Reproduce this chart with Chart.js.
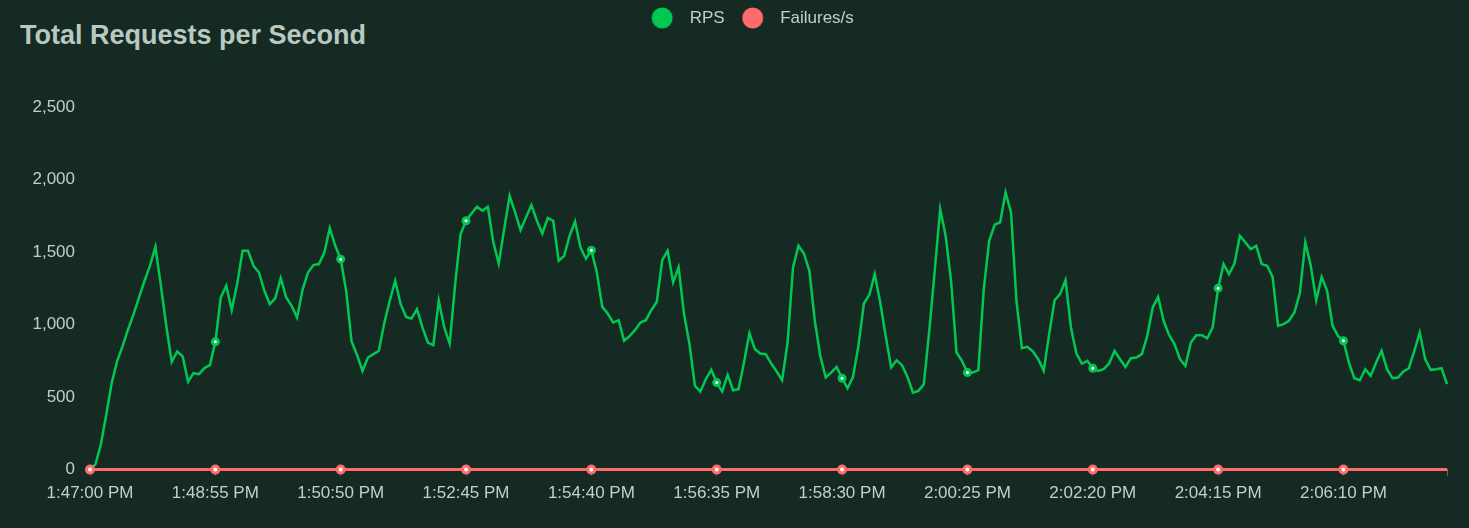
<!DOCTYPE html>
<html>
<head>
<meta charset="utf-8">
<script src="https://cdn.jsdelivr.net/npm/chart.js@4.4.1/dist/chart.umd.min.js"></script>
<style>
  html, body { margin: 0; padding: 0; background: #152a22; }
  #wrap { position: relative; width: 1469px; height: 528px; background: #152a22; overflow: hidden; }
  #title { position: absolute; left: 20px; top: 18px; margin: 0; font: bold 27px "Liberation Sans", Arial, Helvetica, sans-serif; line-height: 34px; color: #b9c9c0; white-space: nowrap; }
  #c { position: absolute; left: 0; top: 0; }
</style>
</head>
<body>
<div id="wrap">
  <h1 id="title">Total Requests per Second</h1>
  <canvas id="c" width="1469" height="528"></canvas>
</div>
<script>
// ---- data (one sample every 5 seconds, starting 1:47:00 PM) ----
const seriesNames = ['RPS', 'Failures/s'];

const rpsValues = [
  0, 37, 175, 382, 600, 750, 853, 968, 1072, 1187, 1302, 1405, 1536, 1270, 990, 743, 814, 780, 605, 665, 658, 700, 720, 881,
  1187, 1267, 1100, 1279, 1509, 1509, 1405, 1359, 1233, 1141, 1182, 1320, 1187, 1129, 1049, 1240, 1359, 1410, 1417, 1497, 1665, 1543, 1451,
  1233, 883, 790, 681, 773, 796, 819, 1010, 1164, 1302, 1141, 1053, 1042, 1106, 980, 876, 858, 1164, 980, 869, 1279, 1624, 1716,
  1766, 1812, 1785, 1812, 1570, 1421, 1658, 1888, 1773, 1651, 1739, 1824, 1716, 1628, 1734, 1716, 1440, 1474, 1612, 1711, 1532, 1454, 1513,
  1359, 1122, 1076, 1014, 1030, 888, 920, 961, 1014, 1030, 1099, 1157, 1444, 1509, 1290, 1394, 1072, 865, 577, 538, 623, 688, 600,
  538, 653, 547, 554, 738, 941, 830, 800, 796, 731, 676, 616, 876, 1394, 1543, 1490, 1371, 1026, 784, 635, 669, 708, 630,
  561, 639, 853, 1145, 1205, 1348, 1152, 922, 704, 754, 720, 639, 531, 543, 589, 957, 1371, 1796, 1612, 1302, 807, 750, 669,
  669, 685, 1244, 1578, 1688, 1704, 1911, 1773, 1164, 837, 846, 815, 761, 681, 934, 1168, 1210, 1306, 980, 800, 731, 750, 699,
  681, 692, 731, 819, 761, 708, 768, 773, 796, 922, 1118, 1191, 1026, 928, 865, 761, 715, 876, 927, 927, 906, 980, 1251,
  1417, 1348, 1421, 1612, 1566, 1520, 1543, 1417, 1405, 1329, 991, 1003, 1026, 1083, 1217, 1566, 1405, 1168, 1329, 1233, 991, 922, 888,
  738, 630, 616, 692, 646, 738, 819, 692, 630, 635, 676, 699, 819, 945, 761, 688, 692, 699, 589
];

const failureValues = [
  0,0,0,0,0,0,0,0,0,0,0,0,0,0,0,0,0,0,0,0,0,0,0,0,0,
  0,0,0,0,0,0,0,0,0,0,0,0,0,0,0,0,0,0,0,0,0,0,0,0,0,
  0,0,0,0,0,0,0,0,0,0,0,0,0,0,0,0,0,0,0,0,0,0,0,0,0,
  0,0,0,0,0,0,0,0,0,0,0,0,0,0,0,0,0,0,0,0,0,0,0,0,0,
  0,0,0,0,0,0,0,0,0,0,0,0,0,0,0,0,0,0,0,0,0,0,0,0,0,
  0,0,0,0,0,0,0,0,0,0,0,0,0,0,0,0,0,0,0,0,0,0,0,0,0,
  0,0,0,0,0,0,0,0,0,0,0,0,0,0,0,0,0,0,0,0,0,0,0,0,0,
  0,0,0,0,0,0,0,0,0,0,0,0,0,0,0,0,0,0,0,0,0,0,0,0,0,
  0,0,0,0,0,0,0,0,0,0,0,0,0,0,0,0,0,0,0,0,0,0,0,0,0,
  0,0,0,0,0,0,0,0,0,0,0,0,0,0,0,0,0,0,0,0,0,0,0,0,0
];

const tickLabels = ['1:47:00 PM', '1:48:55 PM', '1:50:50 PM', '1:52:45 PM', '1:54:40 PM', '1:56:35 PM',
                    '1:58:30 PM', '2:00:25 PM', '2:02:20 PM', '2:04:15 PM', '2:06:10 PM'];
const yTickValues = [0, 500, 1000, 1500, 2000, 2500];

// category labels: timestamps every 5 s
const startSeconds = 13 * 3600 + 47 * 60;
const stepSeconds = 5;
const labelEvery = 23;
const pad2 = n => String(n).padStart(2, '0');
const categories = rpsValues.map((_, i) => {
  const t = startSeconds + i * stepSeconds;
  let h = Math.floor(t / 3600); const m = Math.floor((t % 3600) / 60); const s = t % 60;
  const ap = h >= 12 ? 'PM' : 'AM'; h = h % 12 || 12;
  return h + ':' + pad2(m) + ':' + pad2(s) + ' ' + ap;
});

// ---- styles ----
const GREEN = '#00c853';
const RED = '#ff6b6b';
const TEXT = '#c5cec9';
const AXIS = '#5f6e66';
const FONT = '"Liberation Sans", Arial, Helvetica, sans-serif';
const PAD_LEFT = 20;
const PLOT_LEFT = 90;

function legendDot(color) {
  const c = document.createElement('canvas');
  c.width = 30; c.height = 22;
  const g = c.getContext('2d');
  g.fillStyle = color;
  g.beginPath(); g.arc(11, 11, 10.5, 0, Math.PI * 2); g.fill();
  return c;
}
const legendDots = [legendDot(GREEN), legendDot(RED)];

const legendSpacer = {
  id: 'legendSpacer',
  beforeInit(chart) {
    const origFit = chart.legend.fit;
    chart.legend.fit = function () { origFit.call(this); this.height += 70.5; };
  },
  afterLayout(chart) {
    chart.legend.left += 19;
    chart.legend.right += 19;
  }
};

const markerRadius = ctx => (ctx.dataIndex % labelEvery === 0 ? 3 : 0);
const failMarkerRadius = ctx => (ctx.dataIndex % labelEvery === 0 ? 3.5 : 0);

new Chart(document.getElementById('c'), {
  type: 'line',
  data: {
    labels: categories,
    datasets: [
      {
        label: seriesNames[0], data: rpsValues, order: 1, clip: false,
        borderColor: GREEN, backgroundColor: GREEN, borderWidth: 2.5, tension: 0, fill: false,
        pointRadius: markerRadius, pointBorderWidth: 3, pointBorderColor: GREEN, pointBackgroundColor: '#ffffff',
        pointHoverRadius: 0
      },
      {
        label: seriesNames[1], data: failureValues, order: 0, clip: false,
        borderColor: RED, backgroundColor: RED, borderWidth: 3, tension: 0, fill: false,
        pointRadius: failMarkerRadius, pointBorderWidth: 3, pointBorderColor: RED, pointBackgroundColor: '#ffffff',
        pointHoverRadius: 0
      }
    ]
  },
  plugins: [legendSpacer],
  options: {
    responsive: false,
    devicePixelRatio: 1,
    animation: false,
    layout: { padding: { left: PAD_LEFT, right: 22, top: -7.5, bottom: 16 } },
    plugins: {
      tooltip: { enabled: false },
      title: { display: false },
      legend: {
        display: true, position: 'top', align: 'center',
        labels: {
          usePointStyle: true, pointStyleWidth: 30, boxHeight: 17, padding: 17,
          color: TEXT, font: { family: FONT, size: 17 },
          generateLabels(chart) {
            const items = Chart.defaults.plugins.legend.labels.generateLabels(chart);
            items.sort((a, b) => a.datasetIndex - b.datasetIndex);
            items.forEach(it => { it.pointStyle = legendDots[it.datasetIndex]; });
            return items;
          }
        }
      }
    },
    scales: {
      x: {
        type: 'category', offset: false,
        grid: { display: true, drawOnChartArea: false, drawTicks: true, tickLength: 6, color: AXIS, lineWidth: 1 },
        border: { display: true, color: AXIS },
        afterBuildTicks(scale) {
          const last = categories.length - 1;
          scale.ticks = scale.ticks.filter(t => t.value % labelEvery === 0 || t.value === last);
        },
        ticks: {
          autoSkip: false, maxRotation: 0, minRotation: 0, padding: 8,
          color: TEXT, font: { family: FONT, size: 17 },
          callback(value) { return value % labelEvery === 0 ? (tickLabels[value / labelEvery] || '') : ''; }
        }
      },
      y: {
        min: 0, max: 2500,
        grid: { display: false, drawTicks: false },
        border: { display: false },
        afterBuildTicks(scale) { scale.ticks = yTickValues.map(v => ({ value: v })); },
        afterFit(scale) { scale.width = PLOT_LEFT - PAD_LEFT; },
        ticks: {
          padding: 15, color: TEXT, font: { family: FONT, size: 17 },
          callback(value) { return Number(value).toLocaleString('en-US'); }
        }
      }
    }
  }
});
</script>
</body>
</html>
